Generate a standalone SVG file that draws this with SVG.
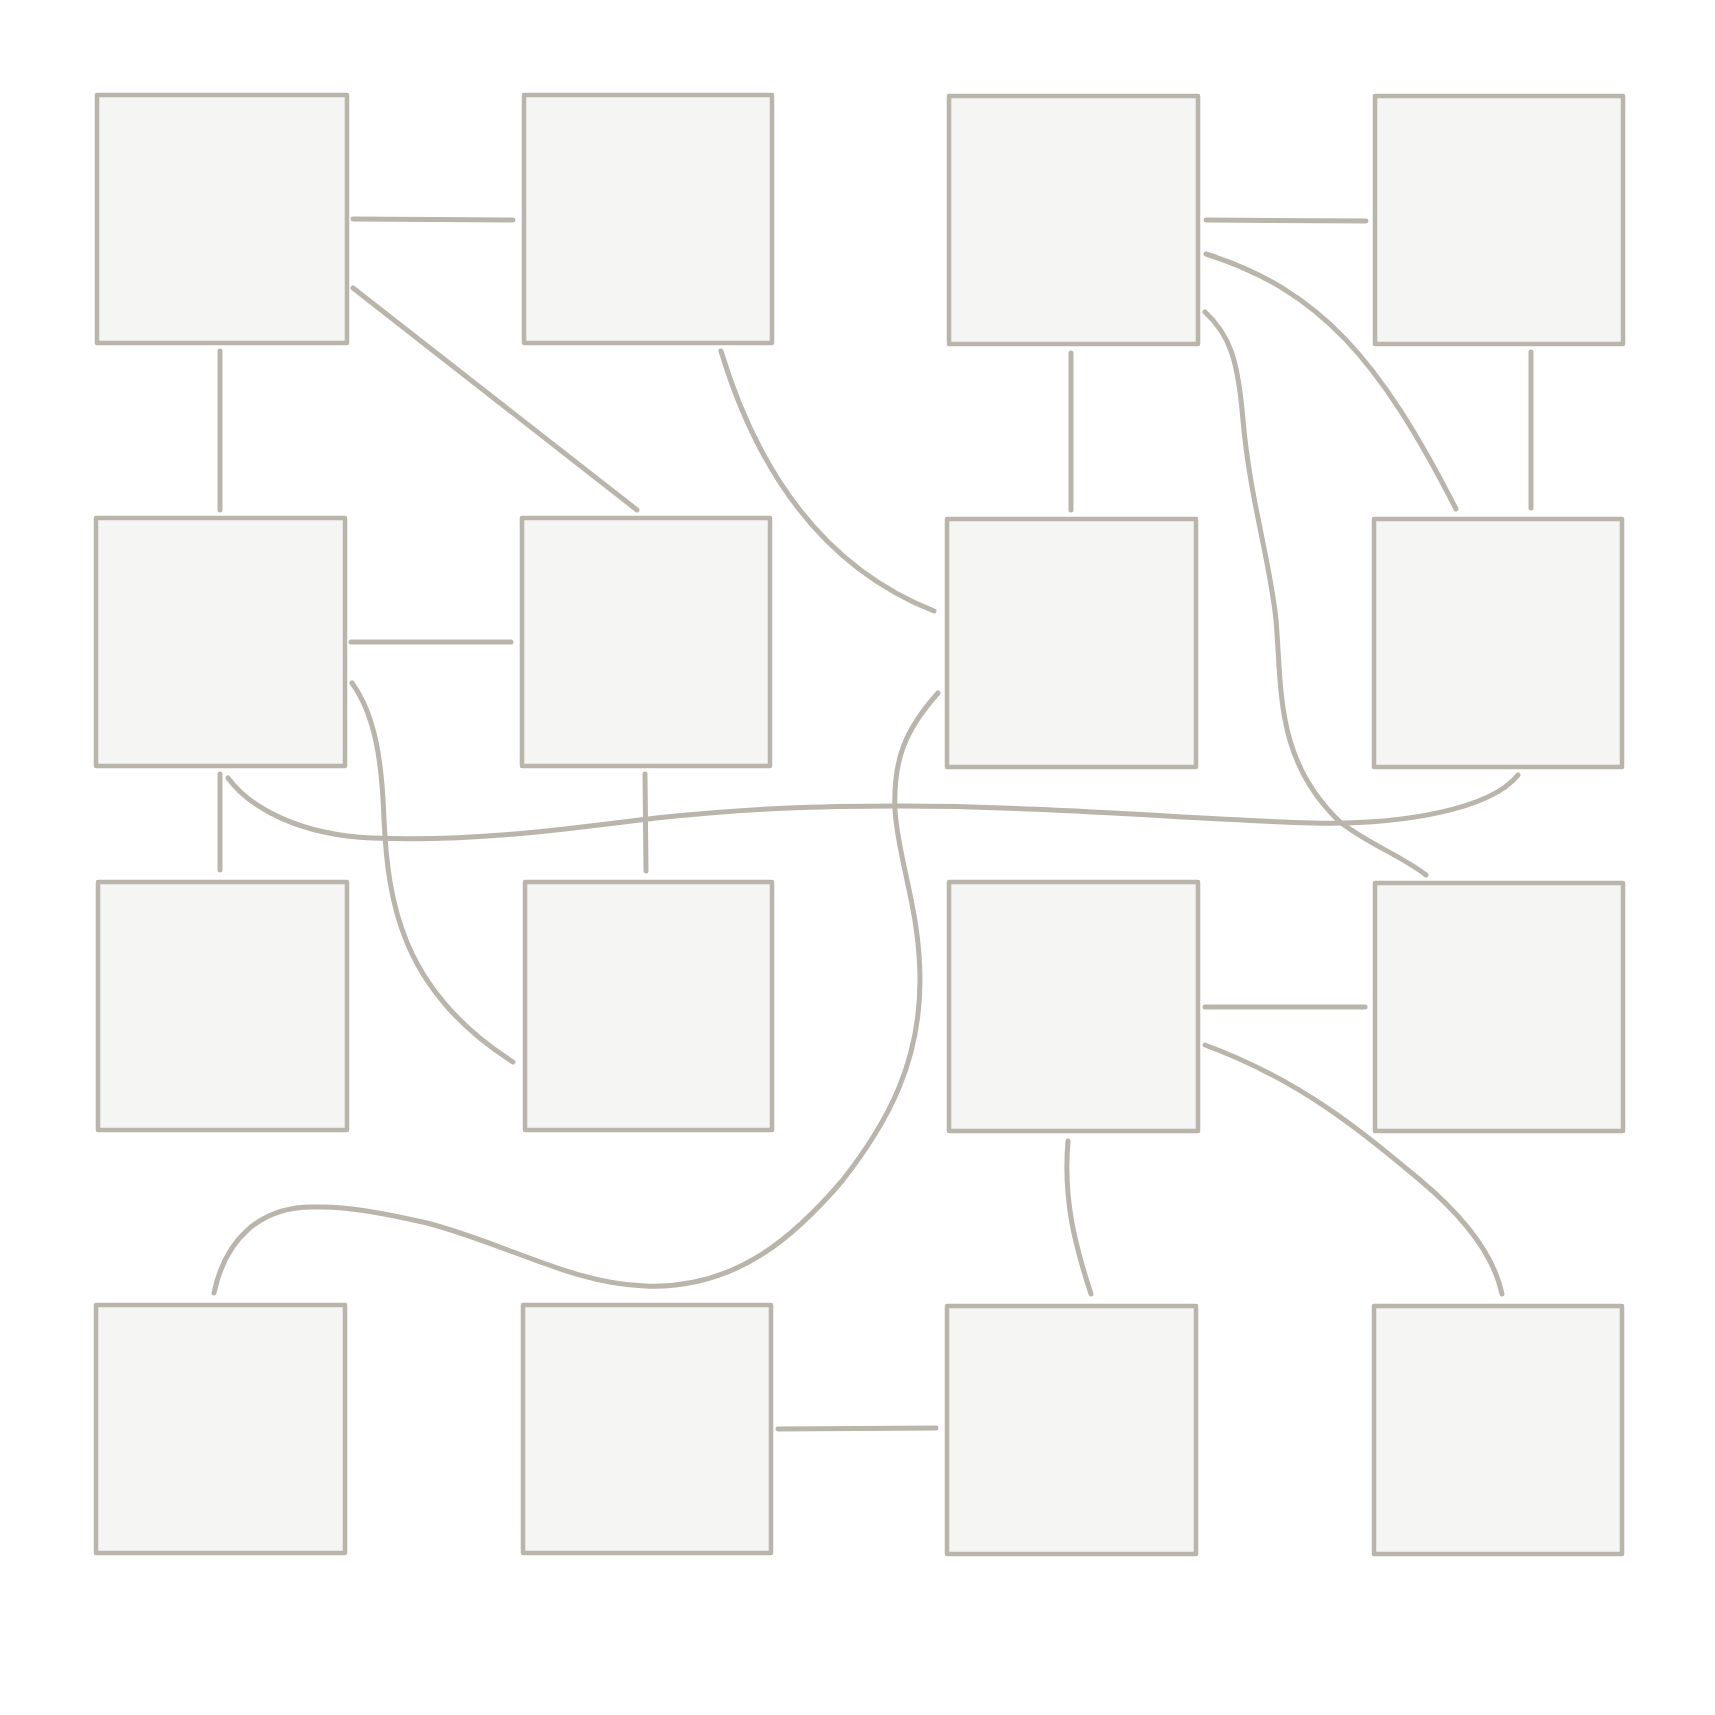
<svg xmlns="http://www.w3.org/2000/svg" width="1715" height="1715" viewBox="0 0 1715 1715">
<style>
.n{fill:#f5f5f3;stroke:#bab5ab;stroke-width:4.5;stroke-linejoin:round}
.c path{fill:none;stroke:#bab5ab;stroke-width:5;stroke-linecap:round}
</style>
<rect width="1715" height="1715" fill="#ffffff"/>
<g id="n11"><rect class="n" x="97" y="95" width="250" height="248"/></g>
<g id="n12"><rect class="n" x="524" y="95" width="248" height="248"/></g>
<g id="n13"><rect class="n" x="949" y="96" width="249" height="248"/></g>
<g id="n14"><rect class="n" x="1375" y="96" width="248" height="248"/></g>
<g id="n21"><rect class="n" x="96" y="518" width="249" height="248"/></g>
<g id="n22"><rect class="n" x="522" y="518" width="248" height="248"/></g>
<g id="n23"><rect class="n" x="947" y="519" width="249" height="248"/></g>
<g id="n24"><rect class="n" x="1374" y="519" width="248" height="248"/></g>
<g id="n31"><rect class="n" x="98" y="882" width="249" height="248"/></g>
<g id="n32"><rect class="n" x="525" y="882" width="247" height="248"/></g>
<g id="n33"><rect class="n" x="949" y="882" width="249" height="249"/></g>
<g id="n34"><rect class="n" x="1375" y="883" width="248" height="248"/></g>
<g id="n41"><rect class="n" x="96" y="1305" width="249" height="248"/></g>
<g id="n42"><rect class="n" x="523" y="1305" width="248" height="248"/></g>
<g id="n43"><rect class="n" x="947" y="1306" width="249" height="248"/></g>
<g id="n44"><rect class="n" x="1374" y="1306" width="248" height="248"/></g>
<g class="c" id="connectors">
<path d="M353,219 L513,220"/>
<path d="M353,288 L637,510"/>
<path d="M220,351 L220,510"/>
<path d="M721,351 C760,480 830,570 934,611"/>
<path d="M1206,220 L1366,221"/>
<path d="M1206,254 C1320,290 1380,360 1456,509"/>
<path d="M1205,312 C1230,335 1238,360 1243,420 C1250,500 1270,560 1276,620 C1282,690 1275,760 1340,822 C1370,845 1400,855 1426,875"/>
<path d="M1071,353 L1071,510"/>
<path d="M1531,352 L1531,508"/>
<path d="M351,642 L511,642"/>
<path d="M352,683 C375,715 382,760 384,820 C388,900 400,990 513,1062"/>
<path d="M220,774 L220,870"/>
<path d="M228,778 C250,808 300,835 372,838 C470,842 560,830 656,818 C750,808 820,806 900,806 C1050,806 1200,820 1313,823 C1400,825 1490,810 1518,775"/>
<path d="M645,774 L646,871"/>
<path d="M938,693 C905,730 893,760 895,810 C898,860 920,910 920,980 C920,1060 890,1120 842,1181 C800,1230 740,1290 645,1286 C570,1283 510,1245 427,1223 C380,1212 340,1206 317,1207 C260,1205 225,1240 214,1293"/>
<path d="M1205,1007 L1365,1007"/>
<path d="M1205,1045 C1300,1080 1360,1130 1420,1180 C1470,1222 1495,1260 1502,1294"/>
<path d="M1068,1141 C1063,1200 1075,1245 1091,1294"/>
<path d="M778,1429 L936,1428"/>
</g>
</svg>
